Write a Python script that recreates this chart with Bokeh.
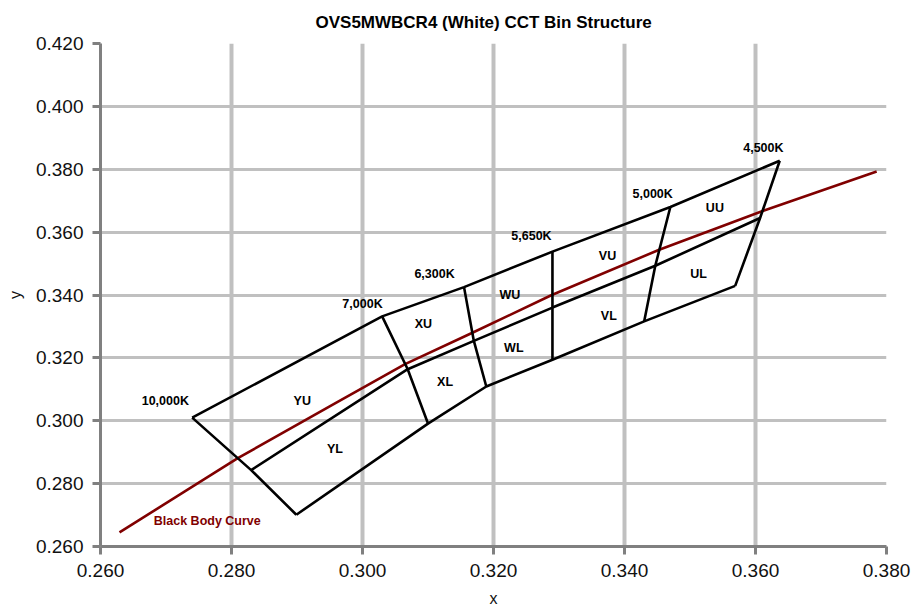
from bokeh.plotting import figure
from bokeh.models import FixedTicker, PrintfTickFormatter, Label, ColumnDataSource
from bokeh.core.properties import value
from bokeh.embed import file_html
from bokeh.resources import INLINE

# ---- data ----
x_ticks = [0.26, 0.28, 0.30, 0.32, 0.34, 0.36, 0.38]
y_ticks = [0.26, 0.28, 0.30, 0.32, 0.34, 0.36, 0.38, 0.40, 0.42]

# bin structure corner points (left edge -> right edge)
top_x = [0.2740, 0.3030, 0.3155, 0.3290, 0.3470, 0.3637]
top_y = [0.3010, 0.3332, 0.3425, 0.3538, 0.3680, 0.3827]
mid_x = [0.2830, 0.3069, 0.3170, 0.3290, 0.3447, 0.3607]
mid_y = [0.2843, 0.3164, 0.3254, 0.3360, 0.3493, 0.3645]
bot_x = [0.2899, 0.3100, 0.3189, 0.3290, 0.3430, 0.3569]
bot_y = [0.2701, 0.2991, 0.3109, 0.3194, 0.3316, 0.3429]

# black body curve
bb_x = [0.2629, 0.2809, 0.2956, 0.3065, 0.3167, 0.3289, 0.3453, 0.3612, 0.3785]
bb_y = [0.2645, 0.2880, 0.3053, 0.3180, 0.3279, 0.3400, 0.3544, 0.3668, 0.3793]

# CCT labels
cct_text = ["10,000K", "7,000K", "6,300K", "5,650K", "5,000K", "4,500K"]
cct_x = [0.2699, 0.3000, 0.3110, 0.3258, 0.3443, 0.3612]
cct_y = [0.3063, 0.3371, 0.3468, 0.3588, 0.3721, 0.3869]

# bin labels
bin_text = ["YU", "YL", "XU", "XL", "WU", "WL", "VU", "VL", "UU", "UL"]
bin_x = [0.2908, 0.2958, 0.3093, 0.3126, 0.3225, 0.3231, 0.3374, 0.3376, 0.3538, 0.3513]
bin_y = [0.3063, 0.2910, 0.3309, 0.3122, 0.3400, 0.3233, 0.3525, 0.3334, 0.3676, 0.3466]

title_text = "OVS5MWBCR4 (White) CCT Bin Structure"
bb_label = "Black Body Curve"

FONT = "Liberation Sans"

p = figure(width=914, height=614, x_range=(0.26, 0.38), y_range=(0.26, 0.42),
           output_backend="svg", toolbar_location=None,
           min_border_left=100, min_border_right=28, min_border_top=43, min_border_bottom=68,
           background_fill_color="white", border_fill_color="white")
p.outline_line_color = None

p.title.text = title_text
p.title.text_font = FONT
p.title.text_font_style = "bold"
p.title.text_font_size = "17px"
p.title.text_color = "black"
p.title.align = "left"
p.title.offset = 215
p.title.vertical_align = "top"
p.title.standoff = 20

for ax, ticks in ((p.xaxis, x_ticks), (p.yaxis, y_ticks)):
    ax.ticker = FixedTicker(ticks=ticks)
    ax.formatter = PrintfTickFormatter(format="%.3f")
    ax.major_label_text_font = FONT
    ax.major_label_text_font_size = "19px"
    ax.major_label_text_color = "#111111"
    ax.axis_line_color = "#808080"
    ax.axis_line_width = 3
    ax.major_tick_line_color = "#808080"
    ax.major_tick_line_width = 3
    ax.major_tick_out = 8
    ax.major_tick_in = 0
    ax.minor_tick_line_color = None
    ax.axis_label_text_font = FONT
    ax.axis_label_text_font_size = "16px"
    ax.axis_label_text_font_style = "normal"
    ax.axis_label_text_color = "#111111"

p.xaxis.axis_label = "x"
p.yaxis.axis_label = "y"
p.xaxis.major_label_standoff = 9
p.yaxis.major_label_standoff = 9
p.xaxis.axis_label_standoff = 10
p.yaxis.axis_label_standoff = 9

p.xgrid.grid_line_color = "#c0c0c0"
p.xgrid.grid_line_width = 4
p.ygrid.grid_line_color = "#c0c0c0"
p.ygrid.grid_line_width = 3

# black body curve
p.line(bb_x, bb_y, line_color="#800000", line_width=2.6)

# bin structure
p.line(top_x, top_y, line_color="black", line_width=2.6)
p.line(mid_x, mid_y, line_color="black", line_width=2.6)
p.line(bot_x, bot_y, line_color="black", line_width=2.6)
xs = [[top_x[i], mid_x[i], bot_x[i]] for i in range(len(top_x))]
ys = [[top_y[i], mid_y[i], bot_y[i]] for i in range(len(top_y))]
p.multi_line(xs, ys, line_color="black", line_width=2.6)

# labels
src_cct = ColumnDataSource(dict(x=cct_x, y=cct_y, t=cct_text))
p.text(x="x", y="y", text="t", source=src_cct, text_align="center", text_baseline="middle",
       text_font=value(FONT), text_font_style="bold", text_font_size="12.5px", text_color="black")
src_bin = ColumnDataSource(dict(x=bin_x, y=bin_y, t=bin_text))
p.text(x="x", y="y", text="t", source=src_bin, text_align="center", text_baseline="middle",
       text_font=value(FONT), text_font_style="bold", text_font_size="12.5px", text_color="black")

p.add_layout(Label(x=0.2763, y=0.2682, text=bb_label, text_align="center", text_baseline="middle",
                   text_font=FONT, text_font_style="bold", text_font_size="12.5px",
                   text_color="#800000"))

open("out.html", "w").write(file_html(p, INLINE))
